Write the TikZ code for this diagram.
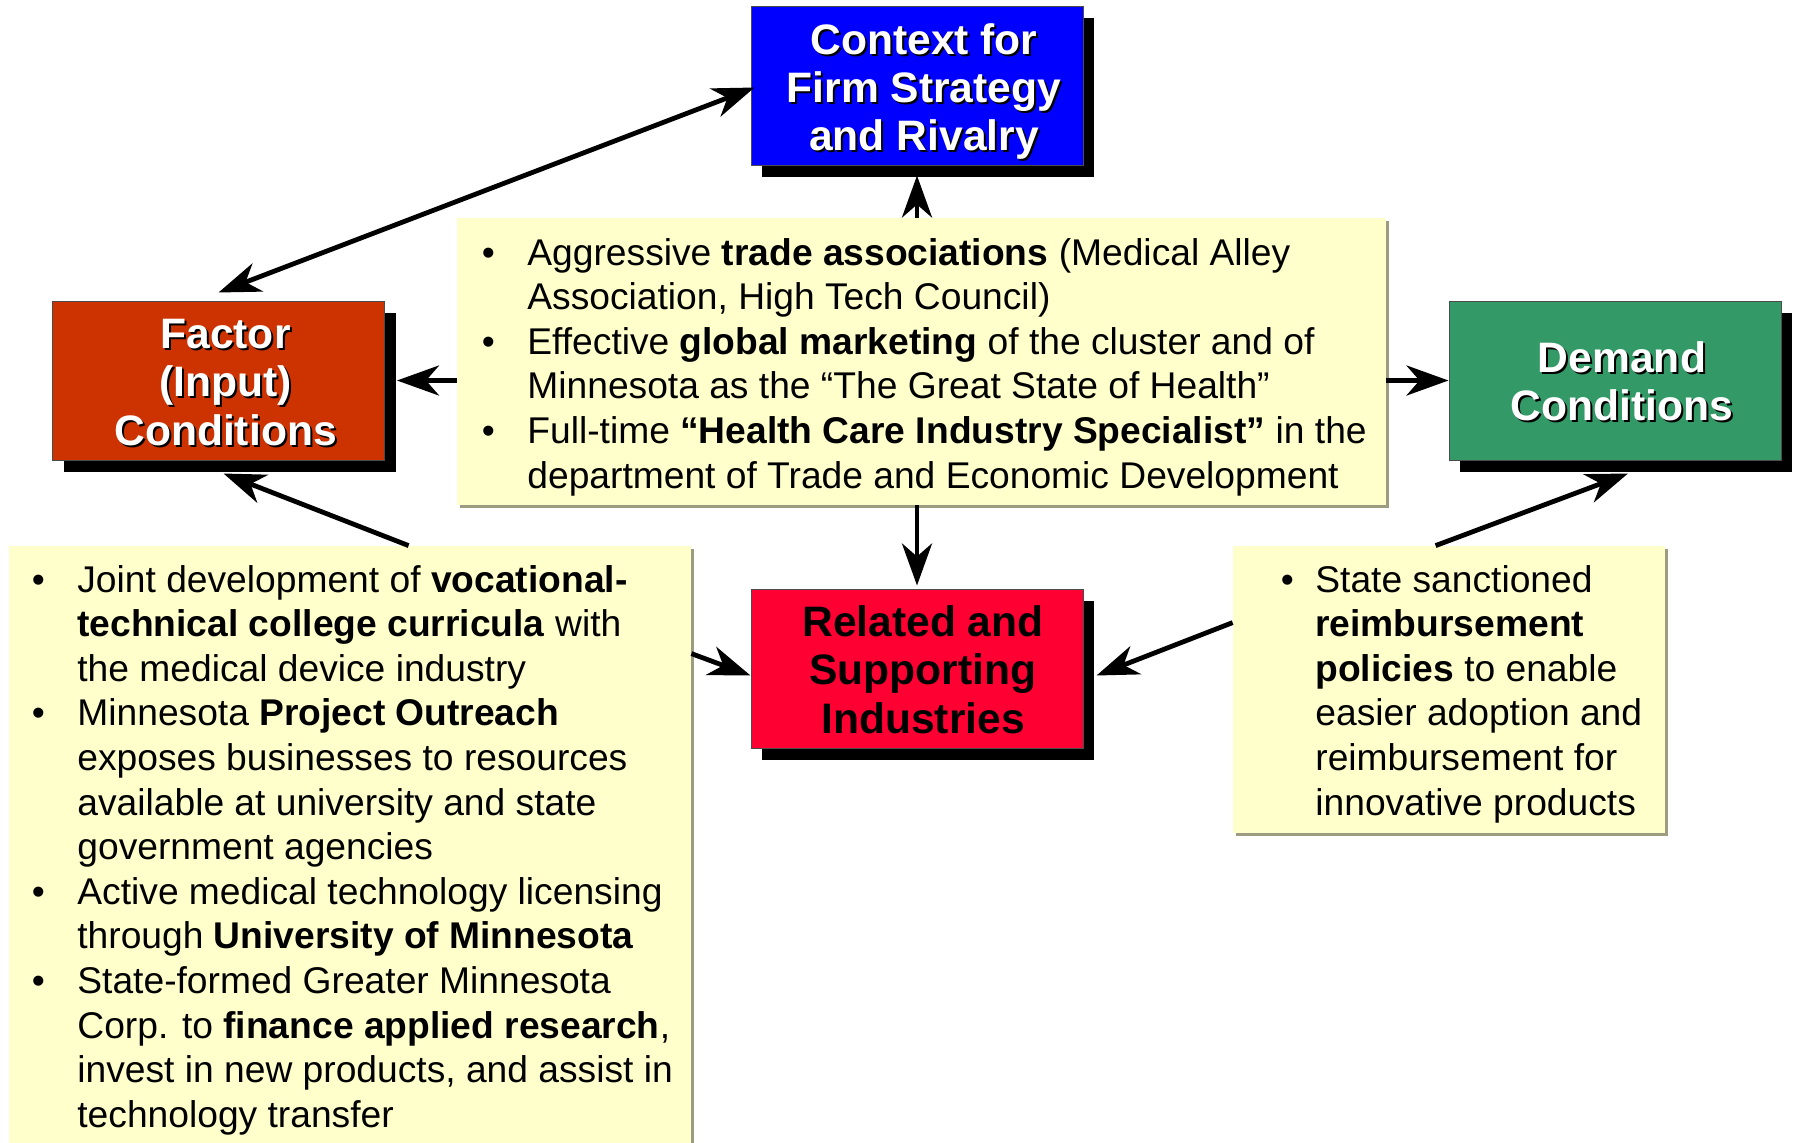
\documentclass[tikz,border=0pt]{standalone}
\usepackage{fontspec}
\setmainfont{Liberation Sans}
\usetikzlibrary{arrows.meta,shadows,calc}

\definecolor{ctxblue}{HTML}{0000FF}
\definecolor{facred}{HTML}{CC3300}
\definecolor{demgreen}{HTML}{339966}
\definecolor{relred}{HTML}{FF0033}
\definecolor{notefill}{HTML}{FFFFCC}
\definecolor{noteshade}{HTML}{9C9C80}

\newcommand\bodyfont{\fontsize{18.6pt}{22.3pt}\selectfont}
\newcommand\headfont{\fontsize{21.3pt}{24.2pt}\selectfont\bfseries}
\newcommand\blt{\textbullet}

\tikzset{
  hbox/.style={draw=black!70, line width=0.5pt, inner sep=0pt,
    minimum width=166pt, minimum height=79.5pt,
    general shadow={fill=black, shadow xshift=5.5pt, shadow yshift=-6pt}},
  htext/.style={font=\headfont, align=center, inner sep=0pt},
  note/.style={fill=notefill, draw=none, inner sep=0pt,
    general shadow={fill=noteshade, shadow xshift=1.5pt, shadow yshift=-1.5pt}},
  notetext/.style={font=\bodyfont, inner sep=0pt, anchor=base west},
  arr/.style={line width=2.4pt, -{Stealth[length=21pt,width=15pt,inset=6.5pt]}},
  dblarr/.style={line width=2.4pt,
    {Stealth[length=21pt,width=15pt,inset=6.5pt]}-{Stealth[length=21pt,width=15pt,inset=6.5pt]}}
}

\begin{document}
\begin{tikzpicture}[x=0.5pt,y=-0.5pt]
\useasboundingbox (0,0) rectangle (1794,1142);
\fill[white] (0,0) rectangle (1794,1142);

% the four determinants
\node[hbox, fill=ctxblue]  (ctx) at (917,85.5)  {};
\node[hbox, fill=facred]   (fac) at (218.5,380.5) {};
\node[hbox, fill=demgreen] (dem) at (1615,380.5) {};
\node[hbox, fill=relred]   (rel) at (917,668.5) {};

% white headings with a dark text shadow
\node[htext, black, xshift=4.5pt, yshift=-4pt] (ctxs) at (ctx) {Context for\\Firm Strategy\\and Rivalry};
\node[htext, white, xshift=3.5pt, yshift=-3pt] (ctxt) at (ctx) {Context for\\Firm Strategy\\and Rivalry};
\node[htext, black, xshift=4.5pt, yshift=-2pt] (facs) at (fac) {Factor\\(Input)\\Conditions};
\node[htext, white, xshift=3.5pt, yshift=-1pt] (fact) at (fac) {Factor\\(Input)\\Conditions};
\node[htext, black, xshift=4.5pt, yshift=-1.5pt] (dems) at (dem) {Demand\\Conditions};
\node[htext, white, xshift=3.5pt, yshift=-0.5pt] (demt) at (dem) {Demand\\Conditions};
\node[htext, black, xshift=3pt, yshift=-0.5pt] (relt) at (rel) {Related and\\Supporting\\Industries};

% note boxes
\node[note, minimum width=464.5pt, minimum height=143.5pt] (cbox) at (921.5,361.5) {};
\node[note, minimum width=341pt, minimum height=302pt] (lbox) at (350,848) {};
\node[note, minimum width=216pt, minimum height=143.5pt] (rbox) at (1449,689.5) {};

\node[notetext] (ctext) at (481.5,265) {\begin{tabular}[t]{@{}p{22.75pt}@{}l@{}}
\blt & Aggressive \textbf{trade associations} (Medical Alley\\
     & Association, High Tech Council)\\
\blt & Effective \textbf{global marketing} of the cluster and of\\
     & Minnesota as the “The Great State of Health”\\
\blt & Full-time \textbf{“Health Care Industry Specialist”} in the\\
     & department of Trade and Economic Development
\end{tabular}};

\node[notetext] (ltext) at (31.5,592) {\begin{tabular}[t]{@{}p{22.75pt}@{}l@{}}
\blt & Joint development of \textbf{vocational-}\\
     & \textbf{technical college curricula} with\\
     & the medical device industry\\
\blt & Minnesota \textbf{Project Outreach}\\
     & exposes businesses to resources\\
     & available at university and state\\
     & government agencies\\
\blt & Active medical technology licensing\\
     & through \textbf{University of Minnesota}\\
\blt & State-formed Greater Minnesota\\
     & Corp. to \textbf{finance applied research},\\
     & invest in new products, and assist in\\
     & technology transfer
\end{tabular}};

\node[notetext] (rtext) at (1280.5,592) {\begin{tabular}[t]{@{}p{17.25pt}@{}l@{}}
\blt & State sanctioned\\
     & \textbf{reimbursement}\\
     & \textbf{policies} to enable\\
     & easier adoption and\\
     & reimbursement for\\
     & innovative products
\end{tabular}};

% connectors
\draw[dblarr] ([yshift=4pt]fac.north) -- ([xshift=2pt,yshift=-1pt]ctx.west);
\draw[arr] (cbox.north -| ctx.south) -- ([yshift=-5pt]ctx.south);
\draw[arr] (cbox.west |- fac.east) -- ([xshift=6pt]fac.east);
\draw[arr] (cbox.east |- dem.west) -- (dem.west);
\draw[arr] (cbox.south -| rel.north) -- ([yshift=1.5pt]rel.north);
\draw[arr] ([xshift=200pt]lbox.north west) -- ([xshift=2.5pt,yshift=-6.5pt]fac.south);
\draw[arr] ([yshift=-54pt]lbox.north east) -- ([yshift=-3.5pt]rel.west);
\draw[arr] ([xshift=101.5pt]rbox.north west) -- ([xshift=6.5pt,yshift=-6.5pt]dem.south);
\draw[arr] ([yshift=-38.5pt]rbox.north west) -- ([xshift=6.5pt,yshift=-3.5pt]rel.east);
\end{tikzpicture}
\end{document}
